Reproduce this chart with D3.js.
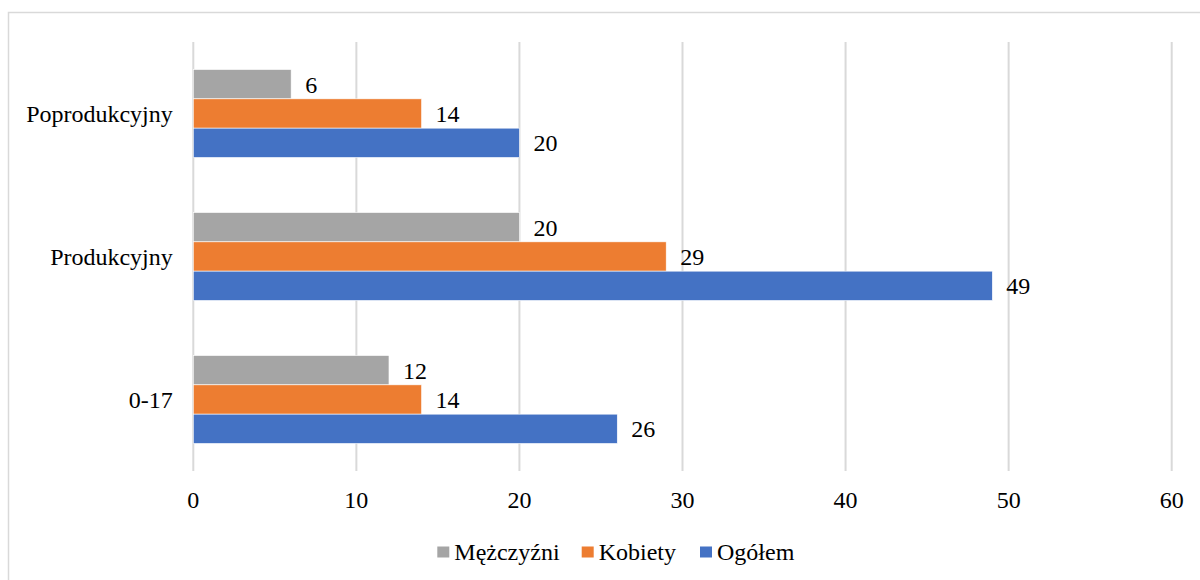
<!DOCTYPE html>
<html>
<head>
<meta charset="utf-8">
<script src="https://cdn.jsdelivr.net/npm/d3@7"></script>
<style>
  body { margin: 0; background: #fff; }
</style>
</head>
<body>
<script>
var width = 1200,
    height = 580

var categories = ['Poprodukcyjny', 'Produkcyjny', '0-17']
var seriesNames = ['Mężczyźni', 'Kobiety', 'Ogółem']
var seriesColors = ['#a5a5a5', '#ed7d31', '#4472c4']
var menValues = [6, 20, 12]
var womenValues = [14, 29, 14]
var totalValues = [20, 49, 26]
var xTicks = [0, 10, 20, 30, 40, 50, 60]

var series = [menValues, womenValues, totalValues]

var fontFamily = '"Liberation Serif"'

var margin = {left: 193.3, right: 28.3, top: 42, bottom: 109}

var x = d3.scaleLinear()
    .domain([0, 60])
    .range([margin.left, width - margin.right])

var y = d3.scaleBand()
    .domain(categories)
    .range([margin.top, height - margin.bottom])
    .paddingInner(0.385)
    .paddingOuter(0.1925)

var y1 = d3.scaleBand()
    .domain(d3.range(series.length))
    .range([0, y.bandwidth()])

var svg = d3.select('body').append('svg')
    .attr('width', width)
    .attr('height', height)

// chart border
svg.append('rect')
    .attr('x', 8.5).attr('y', 12.5)
    .attr('width', width).attr('height', height)
    .attr('fill', 'none')
    .attr('stroke', '#d9d9d9')
    .attr('stroke-width', 1.5)

// gridlines
svg.append('g')
  .selectAll('line')
  .data(xTicks)
  .join('line')
    .attr('x1', d => x(d)).attr('x2', d => x(d))
    .attr('y1', margin.top).attr('y2', height - margin.bottom)
    .attr('stroke', '#d9d9d9')
    .attr('stroke-width', 2)

function label(sel) {
  return sel.attr('font-family', fontFamily)
    .attr('font-size', 24)
    .attr('fill', '#000')
    .attr('dy', '0.35em')
}

// x tick labels
svg.append('g')
  .selectAll('text')
  .data(xTicks)
  .join('text')
    .call(label)
    .attr('x', d => x(d))
    .attr('y', 500)
    .attr('text-anchor', 'middle')
    .text(d => d)

// category labels
svg.append('g')
  .selectAll('text')
  .data(categories)
  .join('text')
    .call(label)
    .attr('x', margin.left - 20.5)
    .attr('y', d => y(d) + y.bandwidth() / 2)
    .attr('text-anchor', 'end')
    .text(d => d)

// bars
var groups = svg.append('g')
  .selectAll('g')
  .data(categories)
  .join('g')
    .attr('transform', d => 'translate(0,' + y(d) + ')')

groups.selectAll('rect')
  .data((c, i) => series.map((s, k) => ({k: k, v: s[i]})))
  .join('rect')
    .attr('x', x(0))
    .attr('y', d => y1(d.k))
    .attr('width', d => x(d.v) - x(0))
    .attr('height', y1.bandwidth())
    .attr('fill', d => seriesColors[d.k])
    .attr('stroke', '#fff')
    .attr('stroke-width', 0.6)

groups.selectAll('text')
  .data((c, i) => series.map((s, k) => ({k: k, v: s[i]})))
  .join('text')
    .call(label)
    .attr('x', d => x(d.v) + 14)
    .attr('y', d => y1(d.k) + y1.bandwidth() / 2)
    .text(d => d.v)

// legend
var legendX = [437.3, 581.7, 700]
var legend = svg.append('g')
  .selectAll('g')
  .data(seriesNames)
  .join('g')
    .attr('transform', (d, i) => 'translate(' + legendX[i] + ',552)')

legend.append('rect')
    .attr('x', 0).attr('y', -5.5)
    .attr('width', 12).attr('height', 11)
    .attr('fill', (d, i) => seriesColors[i])

legend.append('text')
    .call(label)
    .attr('x', 17)
    .text(d => d)
</script>
</body>
</html>
